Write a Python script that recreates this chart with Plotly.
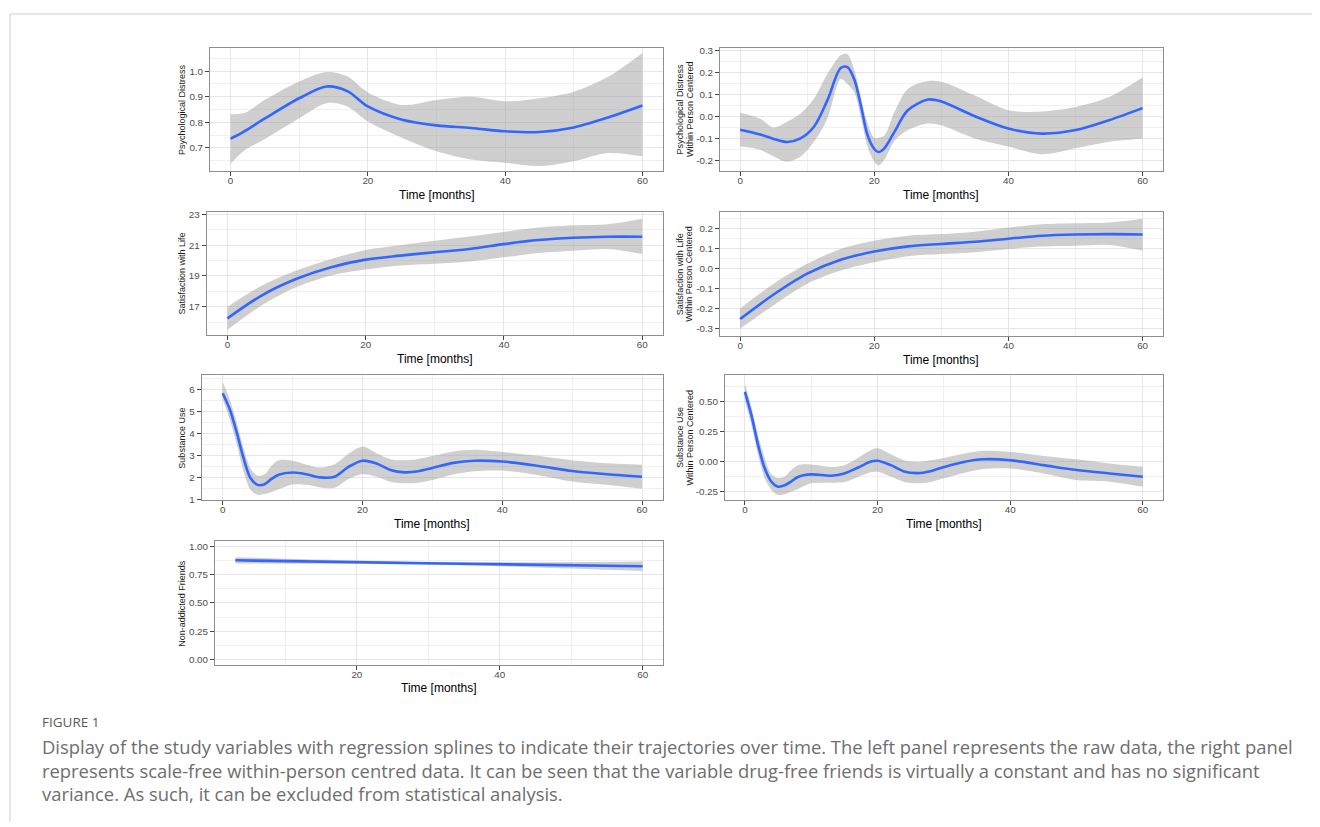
import plotly.graph_objects as go

# the page body adds an 8px margin, so the figure is sized to the visible area
OFF = 8
W, H = 1320 - OFF, 827 - OFF

# ---------------- data ----------------
pd_t     = [0, 2, 5, 10, 14, 17, 20, 25, 30, 35, 40, 45, 50, 55, 60]
pd_fit   = [0.736, 0.765, 0.815, 0.894, 0.940, 0.922, 0.862, 0.810, 0.788, 0.778, 0.765, 0.762, 0.780, 0.819, 0.866]
pd_hi    = [0.832, 0.836, 0.888, 0.960, 0.997, 0.980, 0.917, 0.868, 0.887, 0.900, 0.882, 0.894, 0.920, 0.978, 1.071]
pd_lo    = [0.638, 0.690, 0.735, 0.816, 0.875, 0.862, 0.803, 0.739, 0.687, 0.655, 0.642, 0.629, 0.648, 0.680, 0.667]

pdc_t    = [0, 3, 5, 7, 9, 11, 13, 15, 16, 17, 18, 19, 20, 20.6, 21.5, 23, 25, 28, 30, 35, 40, 45, 50, 55, 60]
pdc_fit  = [-0.058, -0.080, -0.100, -0.114, -0.098, -0.045, 0.075, 0.222, 0.226, 0.172, 0.052, -0.083, -0.146, -0.160, -0.143, -0.068, 0.030, 0.079, 0.070, 0.003, -0.053, -0.076, -0.060, -0.015, 0.040]
pdc_hi   = [0.019, -0.008, -0.048, -0.022, 0.015, 0.082, 0.195, 0.280, 0.285, 0.217, 0.090, -0.030, -0.095, -0.095, -0.085, 0.022, 0.127, 0.163, 0.160, 0.097, 0.030, 0.025, 0.045, 0.090, 0.180]
pdc_lo   = [-0.135, -0.150, -0.180, -0.203, -0.180, -0.113, -0.008, 0.172, 0.150, 0.112, 0.000, -0.135, -0.203, -0.221, -0.195, -0.110, -0.060, -0.030, -0.038, -0.098, -0.135, -0.170, -0.143, -0.113, -0.098]

sl_t     = [0, 5, 10, 15, 20, 25, 30, 35, 40, 45, 50, 55, 60]
sl_fit   = [16.25, 17.75, 18.82, 19.57, 20.06, 20.32, 20.54, 20.75, 21.07, 21.33, 21.48, 21.55, 21.55]
sl_hi    = [17.00, 18.39, 19.36, 20.10, 20.69, 21.00, 21.29, 21.56, 21.86, 22.14, 22.29, 22.36, 22.72]
sl_lo    = [15.50, 17.11, 18.29, 19.04, 19.42, 19.68, 19.79, 19.94, 20.21, 20.49, 20.64, 20.75, 20.43]

slc_t    = [0, 5, 10, 15, 20, 25, 30, 35, 40, 45, 50, 55, 60]
slc_fit  = [-0.251, -0.129, -0.025, 0.044, 0.085, 0.111, 0.123, 0.134, 0.149, 0.164, 0.170, 0.172, 0.170]
slc_hi   = [-0.198, -0.075, 0.024, 0.098, 0.139, 0.164, 0.172, 0.184, 0.205, 0.221, 0.226, 0.230, 0.249]
slc_lo   = [-0.300, -0.182, -0.075, -0.009, 0.032, 0.062, 0.073, 0.082, 0.098, 0.110, 0.114, 0.118, 0.090]

su_t     = [0, 1, 2, 3, 4, 5, 6, 7, 8, 10, 12, 14, 16, 18, 20, 22, 24, 26, 28, 30, 33, 36, 40, 45, 50, 55, 60]
su_fit   = [5.85, 5.13, 4.08, 2.88, 1.98, 1.68, 1.71, 1.95, 2.14, 2.24, 2.16, 2.02, 2.05, 2.50, 2.78, 2.65, 2.36, 2.25, 2.30, 2.45, 2.68, 2.78, 2.74, 2.55, 2.31, 2.16, 2.05]
su_hi    = [6.36, 5.58, 4.53, 3.33, 2.43, 2.10, 2.16, 2.55, 2.80, 2.78, 2.60, 2.47, 2.62, 3.10, 3.42, 3.12, 2.85, 2.80, 2.86, 2.99, 3.20, 3.28, 3.18, 3.00, 2.80, 2.66, 2.60]
su_lo    = [5.58, 4.68, 3.55, 2.28, 1.45, 1.23, 1.26, 1.36, 1.48, 1.70, 1.68, 1.56, 1.55, 1.95, 2.16, 2.05, 1.82, 1.75, 1.78, 1.90, 2.15, 2.30, 2.33, 2.13, 1.83, 1.68, 1.50]

suc_t    = [0, 1, 2, 3, 4, 5, 6, 7, 8, 10, 13, 15, 17, 19, 20, 22, 24, 26, 28, 30, 33, 36, 40, 45, 50, 55, 60]
suc_fit  = [0.580, 0.382, 0.135, -0.058, -0.168, -0.209, -0.198, -0.165, -0.128, -0.107, -0.118, -0.099, -0.052, 0.000, 0.006, -0.030, -0.082, -0.096, -0.080, -0.046, -0.003, 0.019, 0.011, -0.030, -0.071, -0.099, -0.126]
suc_hi   = [0.651, 0.450, 0.217, 0.025, -0.107, -0.135, -0.126, -0.071, -0.030, -0.025, -0.045, -0.030, 0.030, 0.095, 0.110, 0.060, 0.010, -0.003, 0.010, 0.030, 0.065, 0.090, 0.080, 0.047, 0.019, -0.016, -0.044]
suc_lo   = [0.505, 0.300, 0.052, -0.140, -0.236, -0.277, -0.272, -0.250, -0.228, -0.181, -0.176, -0.170, -0.130, -0.090, -0.085, -0.125, -0.170, -0.181, -0.170, -0.140, -0.095, -0.062, -0.058, -0.099, -0.154, -0.168, -0.209]

nf_t     = [3, 32, 60]
nf_fit   = [0.879, 0.851, 0.826]
nf_hi    = [0.907, 0.863, 0.868]
nf_lo    = [0.851, 0.839, 0.784]

x_ticks      = [0, 20, 40, 60]
x_ticks_nf   = [20, 40, 60]
pd_ticks     = ["0.7", "0.8", "0.9", "1.0"]
pdc_ticks    = ["-0.2", "-0.1", "0.0", "0.1", "0.2", "0.3"]
sl_ticks     = ["17", "19", "21", "23"]
slc_ticks    = ["-0.3", "-0.2", "-0.1", "0.0", "0.1", "0.2"]
su_ticks     = ["1", "2", "3", "4", "5", "6"]
suc_ticks    = ["-0.25", "0.00", "0.25", "0.50"]
nf_ticks     = ["0.00", "0.25", "0.50", "0.75", "1.00"]

x_title = "Time [months]"
caption_head = "FIGURE 1"
caption_lines = [
    "Display of the study variables with regression splines to indicate their trajectories over time. The left panel represents the raw data, the right panel",
    "represents scale-free within-person centred data. It can be seen that the variable drug-free friends is virtually a constant and has no significant",
    "variance. As such, it can be excluded from statistical analysis.",
]

# ---------------- panel layout (pixel boxes in page coordinates) ----------------
panels = [
    dict(t=pd_t, fit=pd_fit, hi=pd_hi, lo=pd_lo, yt=pd_ticks, xt=x_ticks,
         box=(210, 663, 45, 170), xr=[-3, 63], yr=[0.608, 1.092],
         ytitle=["Psychological Distress"], tx=[28.5]),
    dict(t=pdc_t, fit=pdc_fit, hi=pdc_hi, lo=pdc_lo, yt=pdc_ticks, xt=x_ticks,
         box=(720, 1162.7, 45, 170), xr=[-3, 63], yr=[-0.248, 0.315],
         ytitle=["Psychological Distress", "Within Person Centered"], tx=[40, 30.5]),
    dict(t=sl_t, fit=sl_fit, hi=sl_hi, lo=sl_lo, yt=sl_ticks, xt=x_ticks,
         box=(206.7, 663, 211, 335.7), xr=[-3, 63], yr=[15.14, 23.15],
         ytitle=["Satisfaction with Life"], tx=[25]),
    dict(t=slc_t, fit=slc_fit, hi=slc_hi, lo=slc_lo, yt=slc_ticks, xt=x_ticks,
         box=(720, 1162.7, 211, 336.7), xr=[-3, 63], yr=[-0.338, 0.282],
         ytitle=["Satisfaction with Life", "Within Person Centered"], tx=[40, 30.5]),
    dict(t=su_t, fit=su_fit, hi=su_hi, lo=su_lo, yt=su_ticks, xt=x_ticks,
         box=(201.7, 663, 376, 502.3), xr=[-3, 63], yr=[0.97, 6.66],
         ytitle=["Substance Use"], tx=[20]),
    dict(t=suc_t, fit=suc_fit, hi=suc_hi, lo=suc_lo, yt=suc_ticks, xt=x_ticks,
         box=(725, 1162.7, 376, 502.3), xr=[-3, 63], yr=[-0.324, 0.717],
         ytitle=["Substance Use", "Within Person Centered"], tx=[45, 35.5]),
    dict(t=nf_t, fit=nf_fit, hi=nf_hi, lo=nf_lo, yt=nf_ticks, xt=x_ticks_nf,
         box=(215, 663, 543.3, 668.3), xr=[0.15, 62.85], yr=[-0.05, 1.05],
         ytitle=["Non-addicted Friends"], tx=[33.2]),
]

BLUE = "#3366FF"
BAND = "rgba(153,153,153,0.47)"
GRID = "#E6E6E6"
GRID_MINOR = "#F0F0F0"
FONT = "Liberation Sans, Arial, sans-serif"
CAP_FONT = "Open Sans, sans-serif"


def px(x):
    return (x - OFF) / W


def py(y):
    return 1 - (y - OFF) / H


def minor_vals(vals):
    step = vals[1] - vals[0]
    out = [vals[0] - step / 2]
    for a, b in zip(vals[:-1], vals[1:]):
        out.append((a + b) / 2)
    out.append(vals[-1] + step / 2)
    return out


fig = go.Figure()
annotations = []
layout = {}

for i, p in enumerate(panels, start=1):
    xa = "x" if i == 1 else f"x{i}"
    ya = "y" if i == 1 else f"y{i}"
    xk = "xaxis" if i == 1 else f"xaxis{i}"
    yk = "yaxis" if i == 1 else f"yaxis{i}"
    x0, x1, y0, y1 = p["box"]

    smooth = 0.9
    fig.add_trace(go.Scatter(x=p["t"], y=p["lo"], mode="lines",
                             line=dict(width=0, shape="spline", smoothing=smooth),
                             xaxis=xa, yaxis=ya, showlegend=False, hoverinfo="skip"))
    fig.add_trace(go.Scatter(x=p["t"], y=p["hi"], mode="lines",
                             line=dict(width=0, shape="spline", smoothing=smooth),
                             fill="tonexty", fillcolor=BAND, xaxis=xa, yaxis=ya,
                             showlegend=False, hoverinfo="skip"))
    fig.add_trace(go.Scatter(x=p["t"], y=p["fit"], mode="lines",
                             line=dict(color=BLUE, width=2.6, shape="spline", smoothing=smooth),
                             xaxis=xa, yaxis=ya, showlegend=False))

    yvals = [float(v) for v in p["yt"]]
    xvals = p["xt"]
    common = dict(showline=True, mirror=True, linecolor="#8E8E8E", linewidth=1,
                  ticks="outside", ticklen=4, tickwidth=0.8, tickcolor="#444444",
                  tickfont=dict(family=FONT, size=9.8, color="#4D4D4D"),
                  showgrid=True, gridcolor=GRID, gridwidth=1, zeroline=False, fixedrange=True)
    layout[xk] = dict(common, domain=[px(x0), px(x1)], range=p["xr"], anchor=ya,
                      tickmode="array", tickvals=xvals, ticktext=[str(v) for v in xvals],
                      ticklabelstandoff=-4,
                      minor=dict(tickmode="array", tickvals=minor_vals(x_ticks), showgrid=True,
                                 gridcolor=GRID_MINOR, gridwidth=0.6, ticks=""))
    layout[yk] = dict(common, domain=[py(y1), py(y0)], range=p["yr"], anchor=xa,
                      tickmode="array", tickvals=yvals, ticktext=p["yt"],
                      minor=dict(tickmode="array", tickvals=minor_vals(yvals), showgrid=True,
                                 gridcolor=GRID_MINOR, gridwidth=0.6, ticks=""))

    annotations.append(dict(text=x_title, x=px((x0 + x1) / 2), y=py(y1 + 23.5),
                            xref="paper", yref="paper", xanchor="center", yanchor="middle",
                            showarrow=False, font=dict(family=FONT, size=12, color="#000000")))
    for txt, d in zip(p["ytitle"], p["tx"]):
        annotations.append(dict(text=txt, x=px(x0 - d), y=py((y0 + y1) / 2),
                                xref="paper", yref="paper", xanchor="center", yanchor="middle",
                                showarrow=False, textangle=-90,
                                font=dict(family=FONT, size=9, color="#1A1A1A")))

# caption
annotations.append(dict(text=caption_head, x=px(40), y=py(726), xref="paper", yref="paper",
                        xanchor="left", yanchor="middle", showarrow=False,
                        font=dict(family=CAP_FONT, size=13.5, color="#5A5A5A")))
for k, line in enumerate(caption_lines):
    annotations.append(dict(text=line, x=px(40), y=py(751 + 23.5 * k), xref="paper", yref="paper",
                            xanchor="left", yanchor="middle", showarrow=False,
                            font=dict(family=CAP_FONT, size=18.4, color="#6E6E6E")))

shapes = [
    dict(type="line", xref="paper", yref="paper", x0=px(10), x1=1, y0=py(11), y1=py(11),
         line=dict(color="#CFCFCF", width=1)),
    dict(type="line", xref="paper", yref="paper", x0=px(10), x1=px(10), y0=0, y1=py(11),
         line=dict(color="#CFCFCF", width=1)),
]

fig.update_layout(width=W, height=H, margin=dict(l=0, r=0, t=0, b=0),
                  paper_bgcolor="white", plot_bgcolor="white",
                  annotations=annotations, shapes=shapes, **layout)

fig.write_html("out.html", config={"displayModeBar": False})
